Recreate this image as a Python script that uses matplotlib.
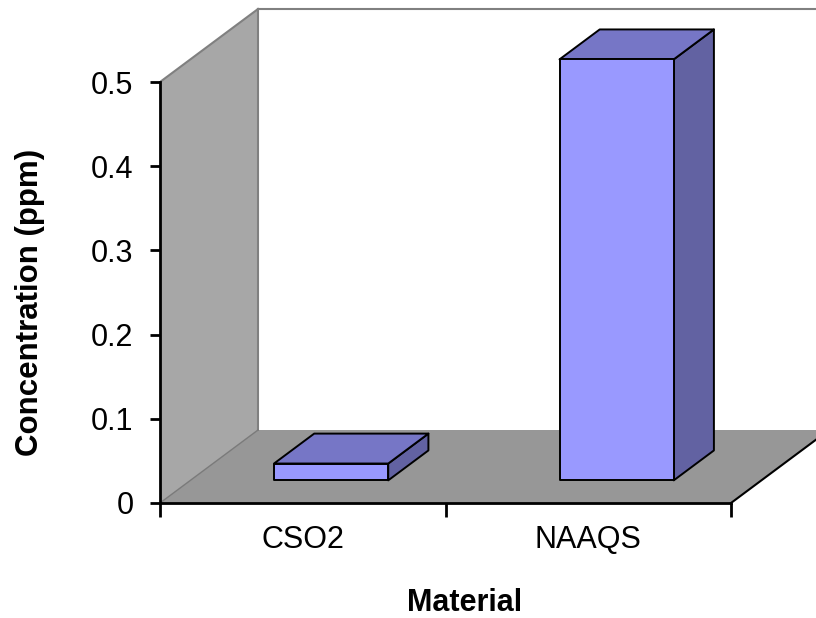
import matplotlib
matplotlib.use("Agg")
import matplotlib.pyplot as plt
from matplotlib.patches import Polygon
from matplotlib.ticker import FixedLocator, FixedFormatter, NullFormatter

# ---- data ----
categories = ["CSO2", "NAAQS"]
values = [0.02, 0.5]
y_ticks = [0, 0.1, 0.2, 0.3, 0.4, 0.5]
y_tick_labels = ["0", "0.1", "0.2", "0.3", "0.4", "0.5"]
y_label = "Concentration (ppm)"
x_label = "Material"

# ---- style ----
plt.rcParams["font.family"] = ["Liberation Sans", "DejaVu Sans"]
FRONT = "#9999FF"
TOP = "#7676C6"
SIDE = "#6262A2"
WALL = "#A7A7A7"
FLOOR = "#979797"
EDGE_GRAY = "#808080"

fig = plt.figure(figsize=(8.16, 6.18), dpi=100)
ax = fig.add_axes([160 / 816, 115 / 618, 656 / 816, 503 / 618])
ax.set_xlim(0, 656 / 285.5)
ax.set_ylim(0, 503 / 842)
ax.set_facecolor("white")

# oblique depth offsets (in data units) for full floor depth
DX = 98 / 285.5
DY = 73 / 842
ymax = y_ticks[-1]
n = len(categories)


def proj(x, y, z):
    return (x + z * DX, y + z * DY)


# left wall
ax.add_patch(Polygon([proj(0, 0, 0), proj(0, ymax, 0), proj(0, ymax, 1), proj(0, 0, 1)],
                     closed=True, facecolor=WALL, edgecolor="none", zorder=1))
# floor
ax.add_patch(Polygon([proj(0, 0, 0), proj(n, 0, 0), proj(n, 0, 1), proj(0, 0, 1)],
                     closed=True, facecolor=FLOOR, edgecolor="none", zorder=1, clip_on=False))
# wall / floor edges
p0, p1 = proj(0, 0, 1), proj(0, ymax, 1)
ax.plot([p0[0], p1[0]], [p0[1], p1[1]], color=EDGE_GRAY, lw=1.5, zorder=2)
xr_edge = 656 / 285.5
ax.plot([p1[0], xr_edge], [p1[1], p1[1]], color=EDGE_GRAY, lw=1.5, zorder=2, clip_on=False)
a, b = proj(0, ymax, 0), proj(0, ymax, 1)
ax.plot([a[0], b[0]], [a[1], b[1]], color=EDGE_GRAY, lw=1.5, zorder=2)
a, b = proj(0, 0, 0), proj(0, 0, 1)
ax.plot([a[0], b[0]], [a[1], b[1]], color="#7a7a7a", lw=1.0, zorder=2)
a, b = proj(n, 0, 0), proj(n, 0, 1)
ax.plot([a[0], b[0]], [a[1], b[1]], color="black", lw=1.5, zorder=2, clip_on=False)

# bars
bw = 0.40
zf, zb = 0.31, 0.72
for i, v in enumerate(values):
    xl = i + 0.293
    xr = xl + bw
    side = [proj(xr, 0, zf), proj(xr, 0, zb), proj(xr, v, zb), proj(xr, v, zf)]
    top = [proj(xl, v, zf), proj(xr, v, zf), proj(xr, v, zb), proj(xl, v, zb)]
    front = [proj(xl, 0, zf), proj(xr, 0, zf), proj(xr, v, zf), proj(xl, v, zf)]
    for poly, col in ((side, SIDE), (top, TOP), (front, FRONT)):
        ax.add_patch(Polygon(poly, closed=True, facecolor=col, edgecolor="black",
                             lw=1.4, joinstyle="round", zorder=3))

# axes / ticks
for s in ("top", "right"):
    ax.spines[s].set_visible(False)
ax.spines["left"].set_bounds(0, ymax)
ax.spines["bottom"].set_bounds(0, n)
ax.spines["left"].set_linewidth(2)
ax.spines["bottom"].set_linewidth(2)
ax.spines["left"].set_zorder(4)
ax.spines["bottom"].set_zorder(4)

ax.yaxis.set_major_locator(FixedLocator(y_ticks))
ax.yaxis.set_major_formatter(FixedFormatter(y_tick_labels))
ax.tick_params(axis="y", which="major", direction="out", length=7, width=2,
               labelsize=22, pad=12, colors="black")

ax.xaxis.set_major_locator(FixedLocator(list(range(n + 1))))
ax.xaxis.set_major_formatter(NullFormatter())
ax.xaxis.set_minor_locator(FixedLocator([i + 0.5 for i in range(n)]))
ax.xaxis.set_minor_formatter(FixedFormatter(categories))
ax.tick_params(axis="x", which="major", direction="out", length=10, width=2)
ax.tick_params(axis="x", which="minor", length=0, labelsize=22, pad=16)

fig.text(30 / 816, 1 - 302 / 618, y_label, rotation=90, ha="center", va="center",
         fontsize=22.5, fontweight="bold")
fig.text(465 / 816, 1 - 603 / 618, x_label, ha="center", va="center",
         fontsize=22, fontweight="bold")

fig.savefig("out.png", dpi=100)
